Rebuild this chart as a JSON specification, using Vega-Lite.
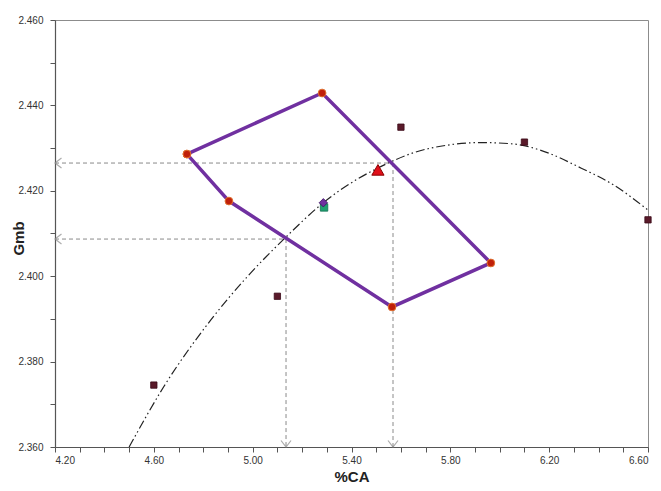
{
  "$schema": "https://vega.github.io/schema/vega-lite/v6.json",
  "width": 593,
  "height": 427,
  "autosize": "none",
  "padding": {"left": 55, "top": 20, "right": 13, "bottom": 44},
  "background": "white",
  "config": {
    "view": {"stroke": "#8c8c8c", "strokeWidth": 1},
    "font": "Liberation Sans",
    "axis": {
      "grid": false,
      "domainColor": "#555555",
      "domainWidth": 1.2,
      "tickColor": "#555555",
      "tickSize": 5,
      "labelFont": "Liberation Sans",
      "labelFontSize": 10,
      "labelColor": "#333333",
      "titleFont": "Liberation Sans",
      "titleFontSize": 15,
      "titleFontWeight": "bold",
      "titleColor": "#222222"
    }
  },
  "datasets": {
    "guides": [
      {"x": 4.2, "y": 2.4265, "x2": 5.568, "y2": 2.4265},
      {"x": 5.568, "y": 2.4265, "x2": 5.568, "y2": 2.36},
      {"x": 4.2, "y": 2.4087, "x2": 5.135, "y2": 2.4087},
      {"x": 5.135, "y": 2.4087, "x2": 5.135, "y2": 2.36}
    ],
    "heads": [
      {"x": 4.2, "y": 2.4265, "dir": "left"},
      {"x": 4.2, "y": 2.4087, "dir": "left"},
      {"x": 5.568, "y": 2.36, "dir": "down"},
      {"x": 5.135, "y": 2.36, "dir": "down"}
    ],
    "curve": [
      {"x": 4.50, "y": 2.3600},
      {"x": 4.64, "y": 2.3741},
      {"x": 4.83, "y": 2.3897},
      {"x": 4.98, "y": 2.4000},
      {"x": 5.13, "y": 2.4089},
      {"x": 5.29, "y": 2.4174},
      {"x": 5.56, "y": 2.4268},
      {"x": 5.65, "y": 2.4289},
      {"x": 5.79, "y": 2.4307},
      {"x": 5.92, "y": 2.4313},
      {"x": 6.05, "y": 2.4310},
      {"x": 6.16, "y": 2.4296},
      {"x": 6.33, "y": 2.4253},
      {"x": 6.46, "y": 2.4214},
      {"x": 6.60, "y": 2.4155}
    ],
    "poly": [
      {"ord": 1, "x": 4.734, "y": 2.4286},
      {"ord": 2, "x": 5.281, "y": 2.4429},
      {"ord": 3, "x": 5.964, "y": 2.4031},
      {"ord": 4, "x": 5.564, "y": 2.3928},
      {"ord": 5, "x": 4.904, "y": 2.4176},
      {"ord": 6, "x": 4.734, "y": 2.4286}
    ],
    "obs": [
      {"x": 4.60, "y": 2.3745},
      {"x": 5.10, "y": 2.3953},
      {"x": 5.60, "y": 2.4349},
      {"x": 6.10, "y": 2.4314},
      {"x": 6.60, "y": 2.4132}
    ],
    "special": [
      {"name": "tri", "x": 5.507, "y": 2.4249},
      {"name": "sq", "x": 5.289, "y": 2.4161},
      {"name": "dia", "x": 5.286, "y": 2.4172}
    ]
  },
  "encoding": {
    "x": {
      "field": "x", "type": "quantitative",
      "scale": {"domain": [4.2, 6.6], "nice": false, "zero": false},
      "axis": {
        "title": "%CA",
        "values": [4.2, 4.3, 4.4, 4.5, 4.6, 4.7, 4.8, 4.9, 5.0, 5.1, 5.2, 5.3, 5.4, 5.5, 5.6, 5.7, 5.8, 5.9, 6.0, 6.1, 6.2, 6.3, 6.4, 6.5, 6.6],
        "labelExpr": "(round(datum.value*10) - 42) % 4 == 0 ? format(datum.value, '.2f') : ''",
        "labelPadding": 3,
        "titlePadding": 4
      }
    },
    "y": {
      "field": "y", "type": "quantitative",
      "scale": {"domain": [2.36, 2.46], "nice": false, "zero": false},
      "axis": {
        "title": "Gmb",
        "values": [2.36, 2.37, 2.38, 2.39, 2.40, 2.41, 2.42, 2.43, 2.44, 2.45, 2.46],
        "labelExpr": "(round(datum.value*1000) - 2360) % 20 == 0 ? format(datum.value, '.3f') : ''",
        "labelPadding": 7,
        "titleX": -29,
        "titleY": 218
      }
    }
  },
  "layer": [
    {
      "data": {"name": "guides"},
      "mark": {"type": "rule", "color": "#8a8a8a", "strokeWidth": 1, "strokeDash": [4, 3]},
      "encoding": {
        "x2": {"field": "x2"},
        "y2": {"field": "y2"}
      }
    },
    {
      "data": {"name": "heads"},
      "mark": {"type": "point", "filled": false, "stroke": "#8a8a8a", "strokeWidth": 1.2, "size": 100},
      "encoding": {
        "shape": {
          "field": "dir", "type": "nominal",
          "scale": {"domain": ["left", "down"], "range": ["M1.3,-1L0,0L1.3,1", "M-1,-1.3L0,0L1,-1.3"]},
          "legend": null
        }
      }
    },
    {
      "data": {"name": "curve"},
      "mark": {"type": "line", "color": "#222222", "strokeWidth": 1.2, "strokeDash": [9, 3, 1.5, 3, 1.5, 3], "interpolate": "monotone"},
      "encoding": {}
    },
    {
      "data": {"name": "poly"},
      "mark": {"type": "line", "color": "#7030A0", "strokeWidth": 3.5},
      "encoding": {"order": {"field": "ord", "type": "quantitative"}}
    },
    {
      "data": {"name": "poly"},
      "mark": {"type": "point", "shape": "circle", "filled": true, "fill": "#C0200A", "stroke": "#E07030", "strokeWidth": 1, "size": 60, "opacity": 1}
    },
    {
      "data": {"name": "obs"},
      "mark": {"type": "point", "shape": "square", "filled": true, "fill": "#5A1A2A", "stroke": "#3a0a18", "strokeWidth": 0.8, "size": 40, "opacity": 1}
    },
    {
      "data": {"name": "special"},
      "transform": [{"filter": "datum.name == 'tri'"}],
      "mark": {"type": "point", "shape": "triangle-up", "filled": true, "fill": "#E0101A", "stroke": "#8a0000", "strokeWidth": 1, "size": 150, "opacity": 1}
    },
    {
      "data": {"name": "special"},
      "transform": [{"filter": "datum.name == 'sq'"}],
      "mark": {"type": "point", "shape": "square", "filled": true, "fill": "#20A070", "stroke": "#107050", "strokeWidth": 0.8, "size": 55, "opacity": 1}
    },
    {
      "data": {"name": "special"},
      "transform": [{"filter": "datum.name == 'dia'"}],
      "mark": {"type": "point", "shape": "diamond", "filled": true, "fill": "#7030A0", "stroke": "#3a1060", "strokeWidth": 0.8, "size": 70, "opacity": 1}
    }
  ]
}
